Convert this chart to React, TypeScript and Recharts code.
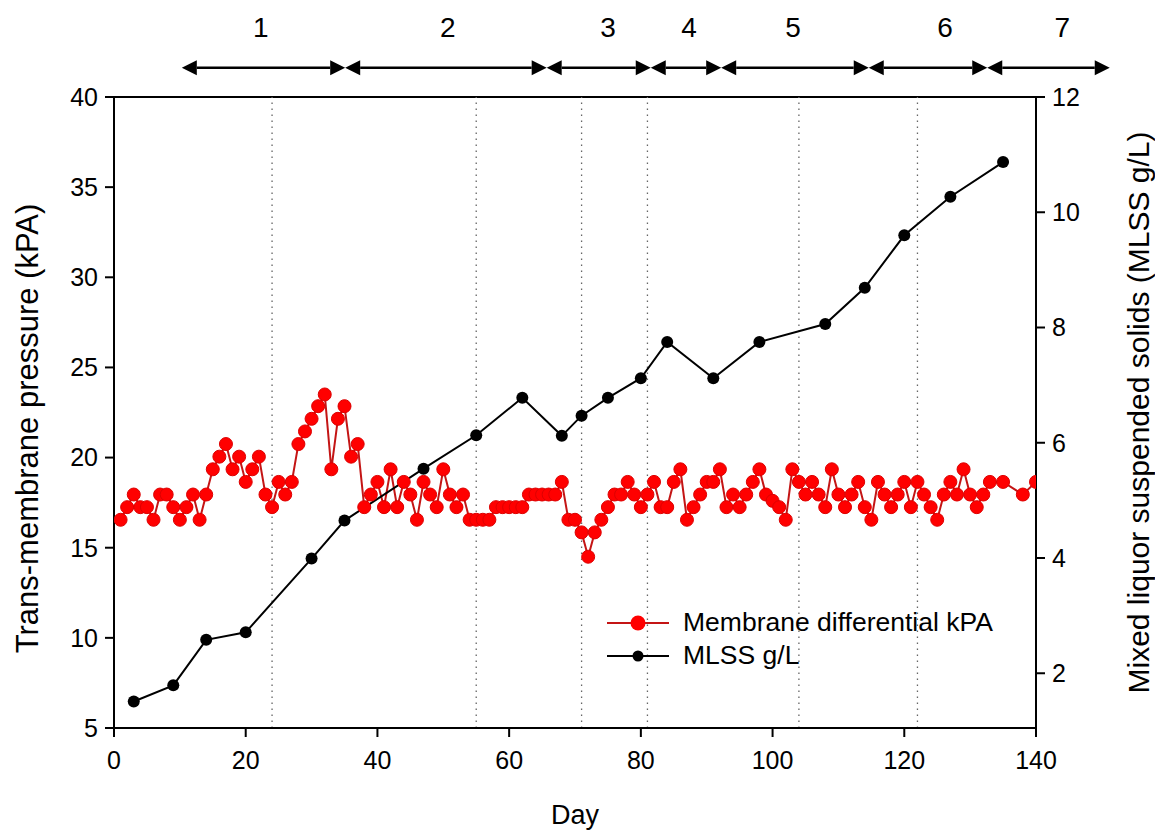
import React from 'react';
import {
  ComposedChart,
  Line,
  XAxis,
  YAxis,
  ReferenceLine,
  ReferenceDot,
  Legend,
} from 'recharts';

const FONT = '"Liberation Sans", Arial, Helvetica, sans-serif';

const TMP_DAYS = [
  1, 2, 3, 4, 5, 6, 7, 8, 9, 10, 11, 12, 13, 14, 15, 16, 17, 18, 19, 20,
  21, 22, 23, 24, 25, 26, 27, 28, 29, 30, 31, 32, 33, 34, 35, 36, 37, 38, 39, 40,
  41, 42, 43, 44, 45, 46, 47, 48, 49, 50, 51, 52, 53, 54, 55, 56, 57, 58, 59, 60,
  61, 62, 63, 64, 65, 66, 67, 68, 69, 70, 71, 72, 73, 74, 75, 76, 77, 78, 79, 80,
  81, 82, 83, 84, 85, 86, 87, 88, 89, 90, 91, 92, 93, 94, 95, 96, 97, 98, 99, 100,
  101, 102, 103, 104, 105, 106, 107, 108, 109, 110, 111, 112, 113, 114, 115, 116, 117, 118, 119, 120,
  121, 122, 123, 124, 125, 126, 127, 128, 129, 130, 131, 132, 133, 135, 138, 140,
];
const TMP_KPA = [
  16.55, 17.25, 17.95, 17.25, 17.25, 16.55, 17.95, 17.95, 17.25, 16.55,
  17.25, 17.95, 16.55, 17.95, 19.35, 20.05, 20.75, 19.35, 20.05, 18.65,
  19.35, 20.05, 17.95, 17.25, 18.65, 17.95, 18.65, 20.75, 21.45, 22.15,
  22.85, 23.5, 19.35, 22.15, 22.85, 20.05, 20.75, 17.25, 17.95, 18.65,
  17.25, 19.35, 17.25, 18.65, 17.95, 16.55, 18.65, 17.95, 17.25, 19.35,
  17.95, 17.25, 17.95, 16.55, 16.55, 16.55, 16.55, 17.25, 17.25, 17.25,
  17.25, 17.25, 17.95, 17.95, 17.95, 17.95, 17.95, 18.65, 16.55, 16.55,
  15.85, 14.5, 15.85, 16.55, 17.25, 17.95, 17.95, 18.65, 17.95, 17.25,
  17.95, 18.65, 17.25, 17.25, 18.65, 19.35, 16.55, 17.25, 17.95, 18.65,
  18.65, 19.35, 17.25, 17.95, 17.25, 17.95, 18.65, 19.35, 17.95, 17.6,
  17.25, 16.55, 19.35, 18.65, 17.95, 18.65, 17.95, 17.25, 19.35, 17.95,
  17.25, 17.95, 18.65, 17.25, 16.55, 18.65, 17.95, 17.25, 17.95, 18.65,
  17.25, 18.65, 17.95, 17.25, 16.55, 17.95, 18.65, 17.95, 19.35, 17.95,
  17.25, 17.95, 18.65, 18.65, 17.95, 18.65,
];

// mixed liquor suspended solids
const MLSS_DAYS = [3, 9, 14, 20, 30, 35, 47, 55, 62, 68, 71, 75, 80, 84, 91, 98, 108, 114, 120, 127, 135];
const MLSS_GL = [
  1.51, 1.79, 2.58, 2.71, 3.99, 4.65, 5.55, 6.13, 6.78, 6.12, 6.47,
  6.78, 7.12, 7.75, 7.12, 7.75, 8.06, 8.69, 9.6, 10.27, 10.87,
];

const DAY_TICKS = [0, 20, 40, 60, 80, 100, 120, 140];
const KPA_TICKS = [5, 10, 15, 20, 25, 30, 35, 40];
const MLSS_TICKS = [2, 4, 6, 8, 10, 12];

// operating phases shown above the plot
const PHASE_NAMES = ['1', '2', '3', '4', '5', '6', '7'];
const PHASE_START = [10.3, 35.1, 65.7, 81.5, 92.2, 114.6, 132.6];
const PHASE_END = [35.1, 65.7, 81.5, 92.2, 114.6, 132.6, 151.2];
const PHASE_LABEL_DAY = [22.3, 50.7, 75, 87.3, 103.1, 126.2, 144];
const PHASE_DIVIDERS = [24, 55, 71, 81, 104, 122];
const ARROW_KPA = 41.62;
const PHASE_LABEL_KPA = 43.86;

const LEGEND_NAMES = ['Membrane differential kPA', 'MLSS g/L'];

const tmpData = TMP_DAYS.map((day, i) => ({ day, value: TMP_KPA[i] }));
const mlssData = MLSS_DAYS.map((day, i) => ({ day, value: MLSS_GL[i] }));

const RED = '#ff0000';
const RED_LINE = '#c41515';

function PhaseArrow(props: any) {
  const { x1, y1, x2, y2 } = props;
  const h = 15;
  const w = 7.5;
  return (
    <g>
      <line x1={x1 + h} y1={y1} x2={x2 - h} y2={y2} stroke="#000" strokeWidth={2.5} />
      <polygon points={`${x1},${y1} ${x1 + h},${y1 - w} ${x1 + h},${y1 + w}`} fill="#000" />
      <polygon points={`${x2},${y2} ${x2 - h},${y2 - w} ${x2 - h},${y2 + w}`} fill="#000" />
    </g>
  );
}

function SideLabel({ viewBox, value, dx, dy = 0, size = 30 }: any) {
  const cx = viewBox.x + dx;
  const cy = viewBox.y + viewBox.height / 2 + dy;
  return (
    <text
      x={cx}
      y={cy}
      transform={`rotate(-90 ${cx} ${cy})`}
      textAnchor="middle"
      dominantBaseline="central"
      fontSize={size}
      fontFamily={FONT}
      fill="#000"
    >
      {value}
    </text>
  );
}

function LegendBox() {
  const marks = [
    { color: RED, line: RED_LINE, r: 7.5 },
    { color: '#000', line: '#000', r: 5.5 },
  ];
  return (
    <div style={{ fontFamily: FONT, fontSize: 26.5, color: '#000' }}>
      {LEGEND_NAMES.map((name, i) => (
        <div key={name} style={{ display: 'flex', alignItems: 'center', height: 33 }}>
          <svg width={62} height={20}>
            <line x1={0} y1={10} x2={62} y2={10} stroke={marks[i].line} strokeWidth={2} />
            <circle cx={31} cy={10} r={marks[i].r} fill={marks[i].color} />
          </svg>
          <span style={{ marginLeft: 14, whiteSpace: 'nowrap' }}>{name}</span>
        </div>
      ))}
    </div>
  );
}

const tickStyle = { fill: '#000', fontSize: 25, fontFamily: FONT };
const axisLine = { stroke: '#000', strokeWidth: 2 };

export default function App() {
  return (
    <div style={{ fontFamily: FONT }}>
      <ComposedChart
        width={1155}
        height={823}
        margin={{ top: 89, right: 37, bottom: 53, left: 0 }}
      >
        <XAxis
          xAxisId="day"
          dataKey="day"
          type="number"
          domain={[0, 140]}
          ticks={DAY_TICKS}
          allowDataOverflow
          height={50}
          tick={tickStyle}
          tickSize={9}
          tickMargin={14}
          axisLine={axisLine}
          tickLine={axisLine}
          label={{
            content: ({ viewBox }: any) => (
              <text
                x={viewBox.x + viewBox.width / 2}
                y={viewBox.y + 87}
                textAnchor="middle"
                dominantBaseline="central"
                fontSize={27}
                fontFamily={FONT}
                fill="#000"
              >
                Day
              </text>
            ),
          }}
        />
        <YAxis
          yAxisId="kpa"
          domain={[5, 40]}
          ticks={KPA_TICKS}
          allowDataOverflow
          width={106}
          tick={tickStyle}
          tickSize={9}
          tickMargin={7}
          axisLine={axisLine}
          tickLine={axisLine}
          label={{
            content: ({ viewBox }: any) => (
              <SideLabel viewBox={viewBox} value="Trans-membrane pressure (kPA)" dx={19} dy={16} size={31} />
            ),
          }}
        />
        <YAxis
          yAxisId="mlss"
          orientation="right"
          domain={[1.05, 12]}
          ticks={MLSS_TICKS}
          allowDataOverflow
          width={90}
          tick={tickStyle}
          tickSize={9}
          tickMargin={7}
          axisLine={axisLine}
          tickLine={axisLine}
          label={{
            content: ({ viewBox }: any) => (
              <SideLabel viewBox={viewBox} value="Mixed liquor suspended solids (MLSS g/L)" dx={102} />
            ),
          }}
        />

        {/* plot frame top */}
        <ReferenceLine xAxisId="day" yAxisId="kpa" y={40} stroke="#000" strokeWidth={2} ifOverflow="visible" />

        {PHASE_DIVIDERS.map((d) => (
          <ReferenceLine
            key={`div-${d}`}
            xAxisId="day"
            yAxisId="kpa"
            x={d}
            stroke="#666"
            strokeWidth={1.3}
            strokeDasharray="1.5 4.5"
          />
        ))}

        {PHASE_NAMES.map((name, i) => (
          <ReferenceLine
            key={`arrow-${name}`}
            xAxisId="day"
            yAxisId="kpa"
            segment={[
              { x: PHASE_START[i], y: ARROW_KPA },
              { x: PHASE_END[i], y: ARROW_KPA },
            ]}
            ifOverflow="visible"
            shape={(p: any) => <PhaseArrow {...p} />}
          />
        ))}
        {PHASE_NAMES.map((name, i) => (
          <ReferenceDot
            key={`label-${name}`}
            xAxisId="day"
            yAxisId="kpa"
            x={PHASE_LABEL_DAY[i]}
            y={PHASE_LABEL_KPA}
            r={0}
            ifOverflow="visible"
            shape={(p: any) => (
              <text
                x={p.cx}
                y={p.cy}
                textAnchor="middle"
                dominantBaseline="central"
                fontSize={28}
                fontFamily={FONT}
                fill="#000"
              >
                {name}
              </text>
            )}
          />
        ))}

        <Line
          xAxisId="day"
          yAxisId="kpa"
          data={tmpData}
          dataKey="value"
          name={LEGEND_NAMES[0]}
          type="linear"
          stroke={RED_LINE}
          strokeWidth={2}
          dot={{ r: 6.5, fill: RED, stroke: '#dd0000', strokeWidth: 1 }}
          activeDot={false}
          isAnimationActive={false}
        />
        <Line
          xAxisId="day"
          yAxisId="mlss"
          data={mlssData}
          dataKey="value"
          name={LEGEND_NAMES[1]}
          type="linear"
          stroke="#000"
          strokeWidth={2}
          dot={{ r: 6, fill: '#000', stroke: '#000', strokeWidth: 0 }}
          activeDot={false}
          isAnimationActive={false}
        />

        <Legend
          layout="vertical"
          align="center"
          verticalAlign="middle"
          wrapperStyle={{ left: 599, top: 598, width: 'auto' }}
          content={() => <LegendBox />}
        />
      </ComposedChart>
    </div>
  );
}
